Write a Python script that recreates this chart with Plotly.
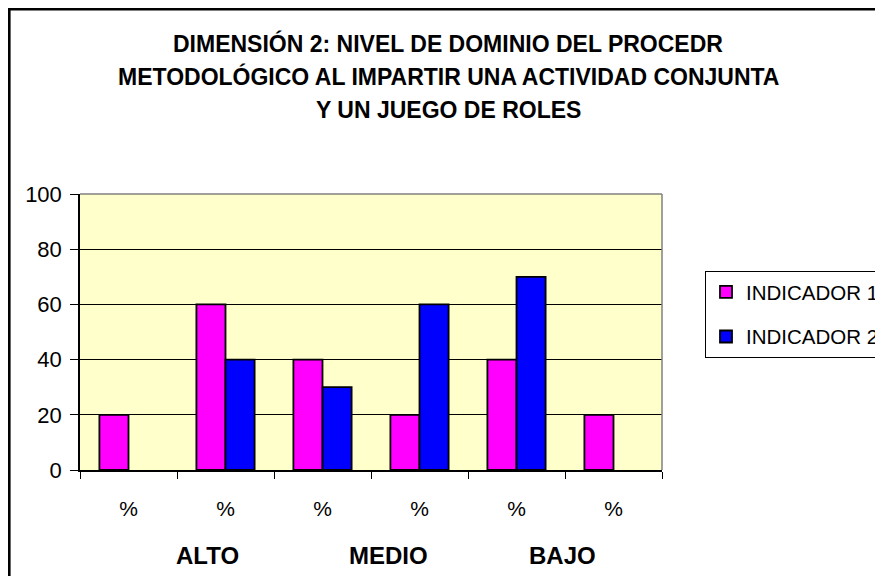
import plotly.graph_objects as go

# ---- data ----
categories = ["%", "%", "%", "%", "%", "%"]
levels = ["ALTO", "MEDIO", "BAJO"]
level_pos = [207, 388, 562]  # window-pixel centres of the group labels
series_names = ["INDICADOR 1", "INDICADOR 2"]
indicador1 = [20, 60, 40, 20, 40, 20]
indicador2 = [None, 40, 30, 60, 70, None]
y_ticks = [0, 20, 40, 60, 80, 100]
title_lines = [
    "DIMENSIÓN 2: NIVEL DE DOMINIO DEL PROCEDR",
    "METODOLÓGICO AL IMPARTIR UNA ACTIVIDAD CONJUNTA",
    "Y UN JUEGO DE ROLES",
]

FONT = "Liberation Sans, Arial, sans-serif"
OFF = 8  # page body margin
W, H = 883, 576
# plot area in window pixels
WL, WR, WT, WB = 80, 662, 194, 470
L, R, T, B = WL - OFF, WR - OFF, WT - OFF, WB - OFF
pw, ph = R - L, B - T


def px(xw):
    return (xw - OFF - L) / pw


def py(yw):
    return (B - (yw - OFF)) / ph


xs = list(range(len(categories)))

fig = go.Figure()
fig.add_trace(go.Bar(x=xs, y=indicador1, name=series_names[0], legendgroup="a",
                     marker=dict(color="#FF00FF", line=dict(color="black", width=1.8))))
fig.add_trace(go.Bar(x=xs, y=indicador2, name=series_names[1], legendgroup="b",
                     marker=dict(color="#0000FF", line=dict(color="black", width=1.8))))

annotations = []
for line, yc in zip(title_lines, [43, 77, 110]):
    annotations.append(dict(text=line, x=px(448), y=py(yc), xref="paper", yref="paper",
                            showarrow=False, xanchor="center", yanchor="middle",
                            font=dict(family=FONT, size=23, color="black", weight="bold")))
for lab, xc in zip(levels, level_pos):
    annotations.append(dict(text=lab, x=px(xc), y=py(555), xref="paper", yref="paper",
                            showarrow=False, xanchor="center", yanchor="middle",
                            font=dict(family=FONT, size=24, color="black", weight="bold")))

shapes = [
    dict(type="rect", xref="paper", yref="paper", x0=px(9.3), y0=py(640), x1=px(960), y1=py(9.3),
         line=dict(color="black", width=2.6), fillcolor="rgba(0,0,0,0)", layer="above"),
    dict(type="line", xref="paper", yref="paper", x0=0, x1=1, y0=1, y1=1,
         line=dict(color="#808080", width=1.5), layer="above"),
    dict(type="line", xref="paper", yref="paper", x0=1, x1=1, y0=0, y1=1,
         line=dict(color="#808080", width=1.5), layer="above"),
]

fig.update_layout(
    width=W, height=H, autosize=False,
    margin=dict(l=L, r=W - R, t=T, b=H - B, pad=0, autoexpand=False),
    paper_bgcolor="white", plot_bgcolor="#FFFFCC",
    barmode="group", bargap=0.40, bargroupgap=0,
    font=dict(family=FONT, size=20, color="black"),
    showlegend=True,
    legend=dict(x=px(705), y=py(271), xanchor="left", yanchor="top",
                bgcolor="white", bordercolor="black", borderwidth=1,
                font=dict(family=FONT, size=20.5, color="black"),
                tracegroupgap=15, traceorder="grouped"),
    annotations=annotations, shapes=shapes,
)

fig.update_xaxes(range=[-0.5, len(categories) - 0.5], tickmode="array", tickvals=xs,
                 ticktext=categories, ticks="", showgrid=False, zeroline=False,
                 showline=True, linecolor="black", linewidth=1.5,
                 ticklabelstandoff=19, tickfont=dict(family=FONT, size=21, color="black"),
                 minor=dict(tickmode="array", tickvals=[i - 0.5 for i in range(len(categories) + 1)],
                            ticks="outside", ticklen=7, tickcolor="black", tickwidth=1.2, showgrid=False))
fig.update_yaxes(range=[0, 100], tickmode="array", tickvals=y_ticks, showgrid=True,
                 gridcolor="black", gridwidth=1, zeroline=False,
                 showline=True, linecolor="black", linewidth=1.5,
                 ticks="outside", ticklen=8, tickcolor="black", tickwidth=1.2,
                 ticklabelstandoff=4, tickfont=dict(family=FONT, size=22, color="black"))

fig.write_html("out.html")
